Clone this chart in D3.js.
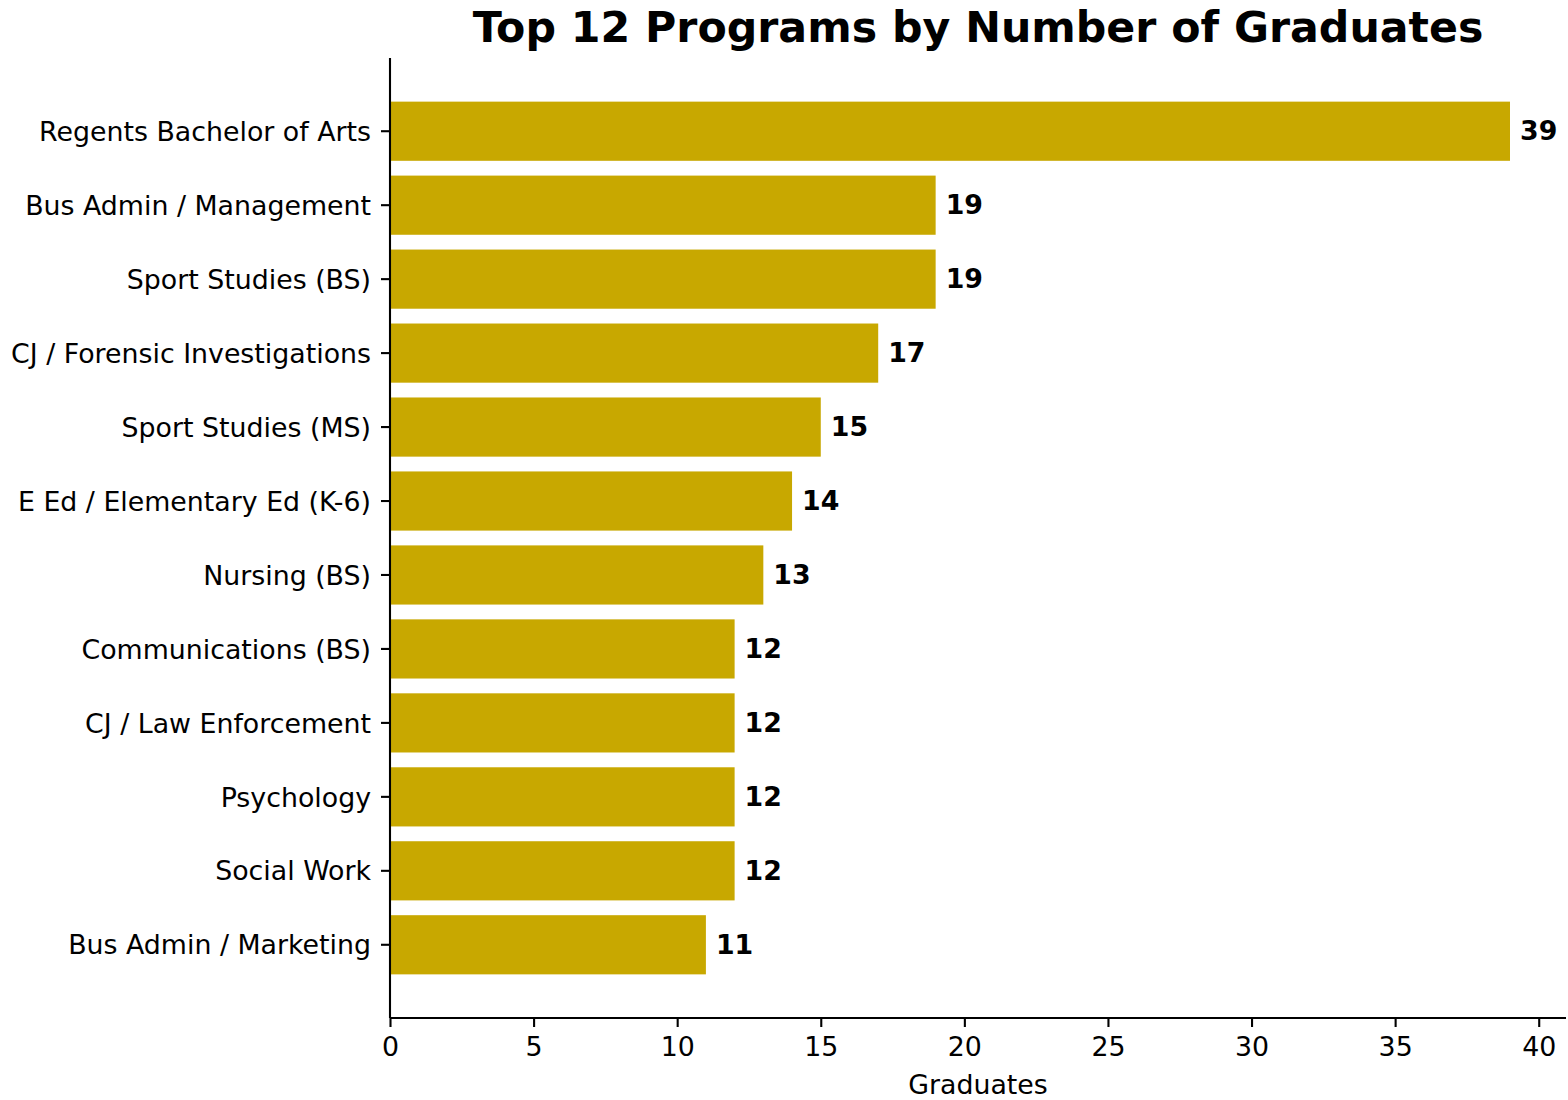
<!DOCTYPE html>
<html>
<head>
<meta charset="utf-8">
<script src="https://cdn.jsdelivr.net/npm/d3@7"></script>
<style>
  html, body { margin: 0; padding: 0; background: #fff; }
  svg { display: block; font-family: "DejaVu Sans", sans-serif; }
</style>
</head>
<body>
<svg id="chart" width="1568" height="1100"></svg>
<script>
const programs = [
  "Regents Bachelor of Arts",
  "Bus Admin / Management",
  "Sport Studies (BS)",
  "CJ / Forensic Investigations",
  "Sport Studies (MS)",
  "E Ed / Elementary Ed (K-6)",
  "Nursing (BS)",
  "Communications (BS)",
  "CJ / Law Enforcement",
  "Psychology",
  "Social Work",
  "Bus Admin / Marketing"
];
const graduates = [39, 19, 19, 17, 15, 14, 13, 12, 12, 12, 12, 11];
const xTicks = [0, 5, 10, 15, 20, 25, 30, 35, 40];
const titleText = "Top 12 Programs by Number of Graduates";
const xLabel = "Graduates";

(function () {
const svg = d3.select("#chart");
const mLeft = 390, mRight = 1566, mTop = 58, mBottom = 1018;
const fs = 26.8;
const barColor = "rgb(200,168,0)";

const x = d3.scaleLinear()
  .domain([0, d3.max(graduates) * 1.05])
  .range([mLeft, mRight]);

const y = d3.scaleBand()
  .domain(programs)
  .range([mTop, mBottom])
  .paddingInner(0.2)
  .paddingOuter(0.59);

const data = programs.map((p, i) => ({ p, v: graduates[i] }));

// bars
svg.append("g").selectAll("rect")
  .data(data)
  .join("rect")
  .attr("x", x(0))
  .attr("y", d => y(d.p))
  .attr("width", d => x(d.v) - x(0))
  .attr("height", y.bandwidth())
  .attr("fill", barColor);

// value labels
svg.append("g").selectAll("text")
  .data(data)
  .join("text")
  .attr("x", d => x(d.v) + 10)
  .attr("y", d => y(d.p) + y.bandwidth() / 2)
  .attr("dy", "0.33em")
  .attr("font-size", fs)
  .attr("font-weight", "bold")
  .attr("fill", "#000")
  .text(d => d.v);

// x axis
const xAxis = d3.axisBottom(x)
  .tickValues(xTicks)
  .tickSize(9)
  .tickPadding(10)
  .tickSizeOuter(0);
const gx = svg.append("g")
  .attr("transform", `translate(0,${mBottom})`)
  .call(xAxis);
gx.select(".domain").attr("stroke", "#000").attr("stroke-width", 2.1)
  .attr("d", `M${mLeft},0H${mRight}`);
gx.selectAll(".tick line").attr("stroke", "#000").attr("stroke-width", 2.1);
gx.selectAll(".tick text").attr("font-size", fs).attr("font-family", "DejaVu Sans").attr("fill", "#000");

// y axis
const yAxis = d3.axisLeft(y)
  .tickSize(9)
  .tickPadding(10)
  .tickSizeOuter(0);
const gy = svg.append("g")
  .attr("transform", `translate(${mLeft},0)`)
  .call(yAxis);
gy.select(".domain").attr("stroke", "#000").attr("stroke-width", 2.1)
  .attr("d", `M0,${mTop}V${mBottom}`);
gy.selectAll(".tick line").attr("stroke", "#000").attr("stroke-width", 2.1);
gy.selectAll(".tick text").attr("font-size", fs).attr("font-family", "DejaVu Sans").attr("fill", "#000")
  .attr("dy", "0.36em");

// x label
svg.append("text")
  .attr("x", (mLeft + mRight) / 2)
  .attr("y", 1094)
  .attr("text-anchor", "middle")
  .attr("font-size", fs)
  .attr("fill", "#000")
  .text(xLabel);

// title
svg.append("text")
  .attr("x", (mLeft + mRight) / 2)
  .attr("y", 42)
  .attr("text-anchor", "middle")
  .attr("font-size", 42.7)
  .attr("font-weight", "bold")
  .attr("fill", "#000")
  .text(titleText);
})();
</script>
</body>
</html>
